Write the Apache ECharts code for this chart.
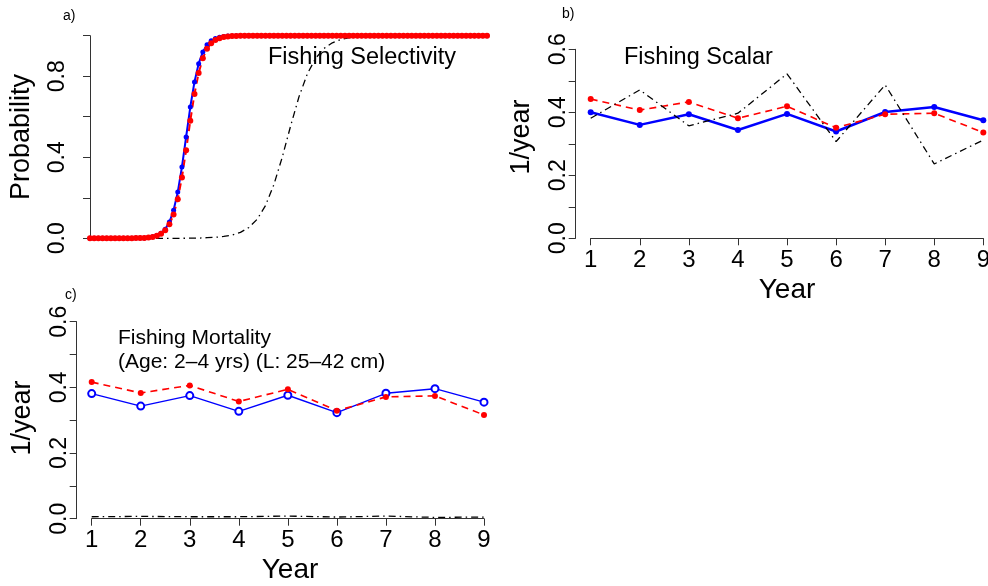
<!DOCTYPE html>
<html>
<head>
<meta charset="utf-8">
<script src="https://cdn.jsdelivr.net/npm/echarts@6/dist/echarts.min.js"></script>
<style>
  html, body { margin: 0; padding: 0; background: #ffffff; }
  #chart { width: 988px; height: 586px; }
</style>
</head>
<body>
<div id="chart"></div>
<script>
// ---- a) selectivity by length bin ----
const lengthBins = [0,1,2,3,4,5,6,7,8,9,10,11,12,13,14,15,16,17,18,19,20,21,22,23,24,25,26,27,28,29,
  30,31,32,33,34,35,36,37,38,39,40,41,42,43,44,45,46,47,48,49,50,51,52,53,54,55,56,57,58,59,
  60,61,62,63,64,65,66,67,68,69,70,71,72,73,74,75,76,77,78,79,80,81,82,83,84,85,86,87,88,89,
  90,91,92,93,94,95];
const selectivityFit = [0,0,0,0,0,0,0,0,0,0,0,0.001,0.001,0.002,0.004,0.008,0.014,0.025,0.045,0.080,
  0.138,0.228,0.352,0.500,0.648,0.772,0.862,0.920,0.955,0.975,0.986,0.992,0.996,0.998,0.999,
  1,1,1,1,1,1,1,1,1,1,1,1,1,1,1,1,1,1,1,1,1,1,1,1,1,1,1,1,1,1,1,1,1,1,1,
  1,1,1,1,1,1,1,1,1,1,1,1,1,1,1,1,1,1,1,1,1,1,1,1,1,1];
const selectivityAlt = [0,0,0,0,0,0,0,0,0,0,0,0.001,0.001,0.002,0.004,0.007,0.013,0.023,0.040,0.069,
  0.117,0.193,0.300,0.435,0.580,0.712,0.816,0.889,0.935,0.963,0.979,0.988,0.993,0.996,0.998,0.999,
  1,1,1,1,1,1,1,1,1,1,1,1,1,1,1,1,1,1,1,1,1,1,1,1,1,1,1,1,1,1,1,1,1,1,
  1,1,1,1,1,1,1,1,1,1,1,1,1,1,1,1,1,1,1,1,1,1,1,1,1,1];
const refLengthBins = [0,2,4,6,8,10,12,14,16,18,20,22,24,26,28,30,32,34,36,38,40,42,44,46,48,50,
  52,54,56,58,60,62,64,66,68,70,72,74,76,78,80,82,84,86,88,90,92,94,95];
const selectivityRef = [0,0,0,0,0,0,0,0,0,0,0,0,0.001,0.001,0.003,0.005,0.009,0.016,0.029,0.053,
  0.094,0.162,0.265,0.400,0.554,0.698,0.811,0.889,0.937,0.965,0.981,0.990,0.994,0.997,0.998,0.999,
  1,1,1,1,1,1,1,1,1,1,1,1,1];

// ---- b) fishing scalar by year ----
const years = [1,2,3,4,5,6,7,8,9];
const scalarFit = [0.400,0.360,0.394,0.344,0.395,0.339,0.401,0.417,0.375];
const scalarAlt = [0.442,0.407,0.433,0.381,0.419,0.351,0.394,0.397,0.336];
const scalarRef = [0.381,0.471,0.357,0.397,0.522,0.307,0.487,0.236,0.312];

// ---- c) fishing mortality by year ----
const mortFit = [0.381,0.343,0.375,0.327,0.376,0.323,0.382,0.396,0.355];
const mortAlt = [0.416,0.383,0.406,0.357,0.394,0.329,0.371,0.374,0.316];
const mortRef = [0.006,0.007,0.006,0.006,0.008,0.005,0.008,0.004,0.005];

const yTicksA = ['0.0','0.4','0.8'];
const yTicksBC = ['0.0','0.2','0.4','0.6'];

const FONT = "'Liberation Sans', Arial, Helvetica, sans-serif";
const BLUE = '#0000ff', RED = '#ff0000', BLACK = '#000000';
const DOTDASH = [7, 4, 1.5, 4];
const DASH = [7, 5];

const zip = (xs, ys) => xs.map((x, i) => [x, ys[i]]);

function yAxisDef(gridIndex, max, interval, shown) {
  return {
    type: 'value', gridIndex, min: 0, max, interval, offset: 15,
    axisLine: { show: true, lineStyle: { color: '#333', width: 1 } },
    axisTick: { show: true, length: 7, lineStyle: { color: '#333', width: 1 } },
    splitLine: { show: false },
    axisLabel: {
      rotate: 90, margin: 6, color: BLACK, fontSize: 23, fontFamily: FONT,
      formatter: v => { const s = v.toFixed(1); return shown.includes(s) ? s : ''; }
    }
  };
}
function xAxisYears(gridIndex) {
  return {
    type: 'value', gridIndex, min: 1, max: 9, interval: 1, offset: 8,
    axisLine: { show: true, lineStyle: { color: '#333', width: 1 } },
    axisTick: { show: true, length: 7, lineStyle: { color: '#333', width: 1 } },
    splitLine: { show: false },
    axisLabel: { margin: 2, color: BLACK, fontSize: 24, fontFamily: FONT, showMinLabel: true, showMaxLabel: true }
  };
}
function text(str, x, y, size, align) {
  return {
    type: 'text', x, y,
    style: { text: str, fill: BLACK, font: size + 'px ' + FONT, textAlign: align || 'left', textVerticalAlign: 'middle' }
  };
}
function rotText(str, x, y, size) {
  return {
    type: 'text', x, y, rotation: Math.PI / 2,
    style: { text: str, fill: BLACK, font: size + 'px ' + FONT, textAlign: 'center', textVerticalAlign: 'middle' }
  };
}

const chart = echarts.init(document.getElementById('chart'), null, { renderer: 'canvas' });
chart.setOption({
  animation: false,
  backgroundColor: '#ffffff',
  grid: [
    { left: 90, right: 501, top: 35.7, bottom: 347.7, outerBoundsMode: 'none' },
    { left: 590.7, right: 4.7, top: 49.3, bottom: 347.7, outerBoundsMode: 'none' },
    { left: 91.7, right: 504, top: 321.7, bottom: 67.3, outerBoundsMode: 'none' }
  ],
  xAxis: [
    { type: 'value', gridIndex: 0, min: 0, max: 95, show: false },
    xAxisYears(1),
    xAxisYears(2)
  ],
  yAxis: [
    yAxisDef(0, 1, 0.2, yTicksA),
    yAxisDef(1, 0.6, 0.1, yTicksBC),
    yAxisDef(2, 0.6, 0.1, yTicksBC)
  ],
  series: [
    // a)
    { type: 'line', xAxisIndex: 0, yAxisIndex: 0, data: zip(lengthBins, selectivityFit), clip: false,
      symbol: 'circle', symbolSize: 5, itemStyle: { color: BLUE }, lineStyle: { color: BLUE, width: 2 } },
    { type: 'line', xAxisIndex: 0, yAxisIndex: 0, data: zip(lengthBins, selectivityAlt), clip: false,
      symbol: 'circle', symbolSize: 6, itemStyle: { color: RED }, lineStyle: { color: RED, width: 2, type: DASH } },
    { type: 'line', xAxisIndex: 0, yAxisIndex: 0, data: zip(refLengthBins, selectivityRef), clip: false,
      symbol: 'none', lineStyle: { color: BLACK, width: 1.3, type: DOTDASH } },
    // b)
    { type: 'line', xAxisIndex: 1, yAxisIndex: 1, data: zip(years, scalarFit), clip: false,
      symbol: 'circle', symbolSize: 6, itemStyle: { color: BLUE }, lineStyle: { color: BLUE, width: 2.5 } },
    { type: 'line', xAxisIndex: 1, yAxisIndex: 1, data: zip(years, scalarAlt), clip: false,
      symbol: 'circle', symbolSize: 6, itemStyle: { color: RED }, lineStyle: { color: RED, width: 1.6, type: DASH } },
    { type: 'line', xAxisIndex: 1, yAxisIndex: 1, data: zip(years, scalarRef), clip: false,
      symbol: 'none', lineStyle: { color: BLACK, width: 1.3, type: DOTDASH } },
    // c)
    { type: 'line', xAxisIndex: 2, yAxisIndex: 2, data: zip(years, mortFit), clip: false,
      symbol: 'emptyCircle', symbolSize: 7, itemStyle: { color: BLUE, borderColor: BLUE, borderWidth: 1.5 },
      lineStyle: { color: BLUE, width: 1.4 } },
    { type: 'line', xAxisIndex: 2, yAxisIndex: 2, data: zip(years, mortAlt), clip: false,
      symbol: 'circle', symbolSize: 6, itemStyle: { color: RED }, lineStyle: { color: RED, width: 1.6, type: DASH } },
    { type: 'line', xAxisIndex: 2, yAxisIndex: 2, data: zip(years, mortRef), clip: false,
      symbol: 'none', lineStyle: { color: BLACK, width: 1.3, type: DOTDASH } }
  ],
  graphic: [
    text('a)', 63, 16, 14),
    text('b)', 562, 14, 14),
    text('c)', 65, 295, 14),
    text('Fishing Selectivity', 268, 58, 23.5),
    text('Fishing Scalar', 624, 58, 23.5),
    text('Fishing Mortality', 118, 338, 21),
    text('(Age: 2\u20134 yrs) (L: 25\u201342 cm)', 118, 362, 21),
    rotText('Probability', 22, 137, 27),
    rotText('1/year', 522, 137, 27),
    rotText('1/year', 23, 418, 27),
    text('Year', 787, 290, 28, 'center'),
    text('Year', 290, 570, 28, 'center')
  ]
});
</script>
</body>
</html>
